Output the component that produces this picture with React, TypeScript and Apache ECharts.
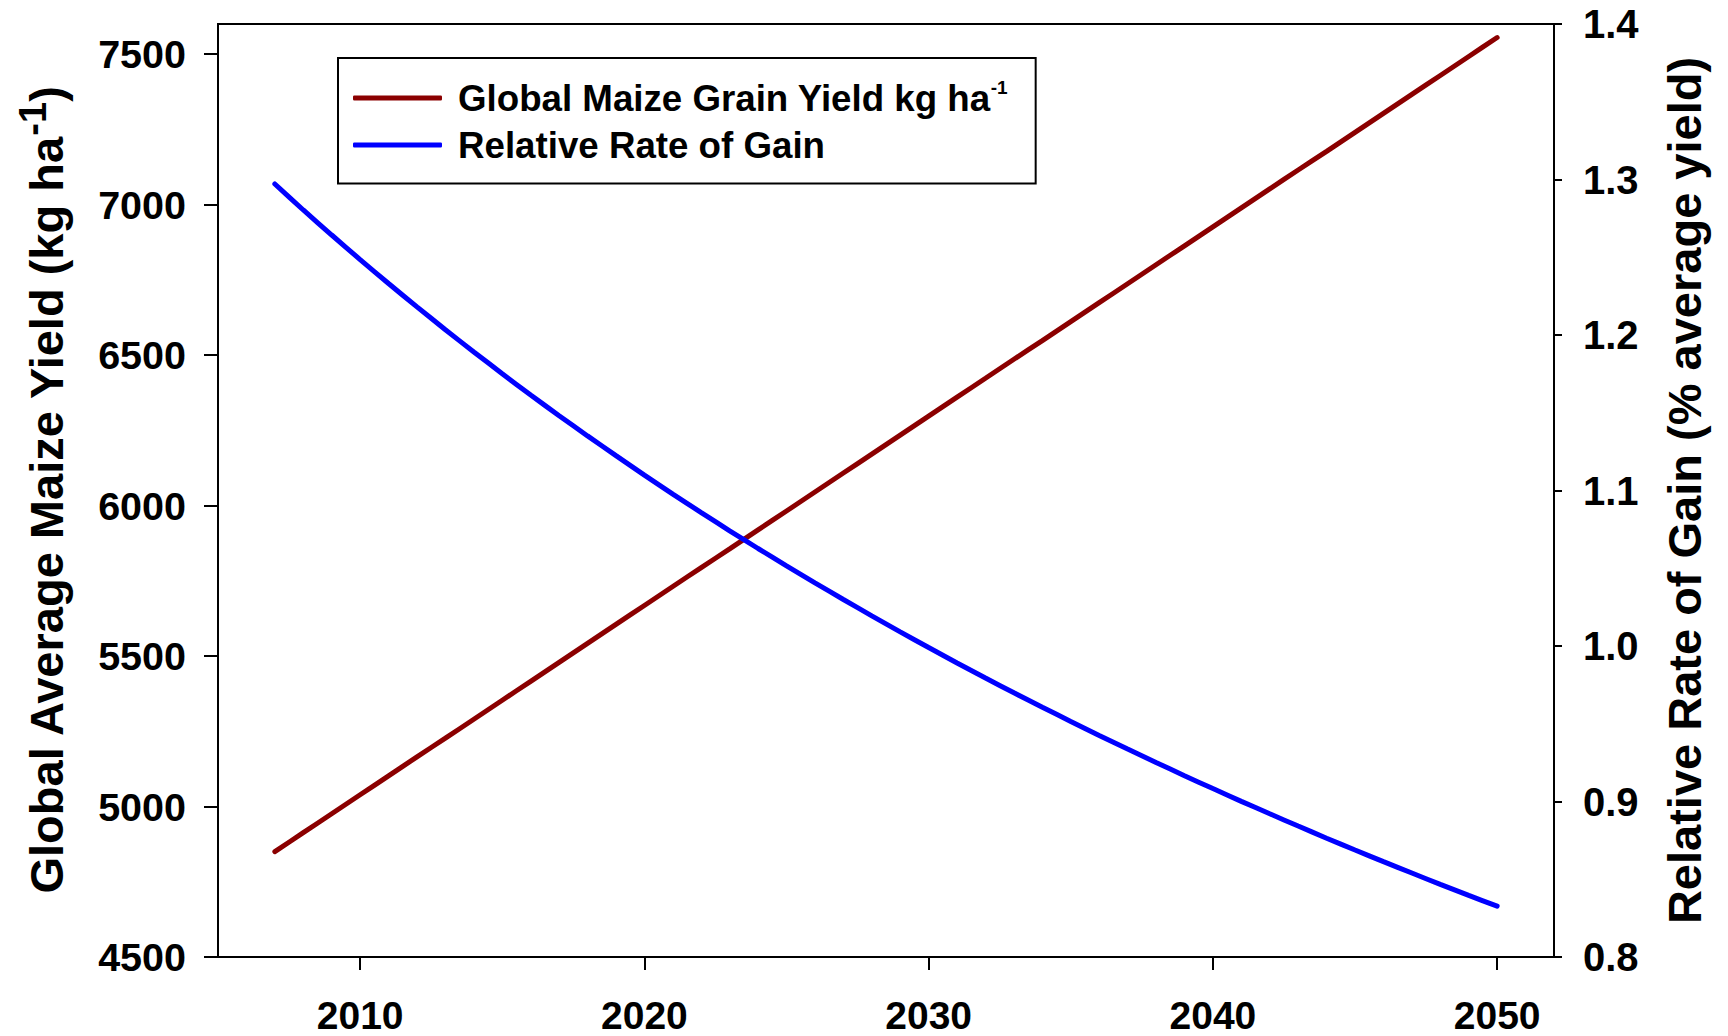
import React, { useEffect, useRef } from "react";
import * as echarts from "echarts";

const years = [
  2007, 2008, 2009, 2010, 2011, 2012, 2013, 2014, 2015, 2016, 2017, 2018, 2019, 2020, 2021,
  2022, 2023, 2024, 2025, 2026, 2027, 2028, 2029, 2030, 2031, 2032, 2033, 2034, 2035, 2036,
  2037, 2038, 2039, 2040, 2041, 2042, 2043, 2044, 2045, 2046, 2047, 2048, 2049, 2050,
];

const yieldValues = [
  4850, 4913, 4976, 5039, 5102, 5165, 5227, 5290, 5353, 5416, 5479, 5542, 5605, 5668, 5731,
  5794, 5856, 5919, 5982, 6045, 6108, 6171, 6234, 6297, 6360, 6423, 6486, 6548, 6611, 6674,
  6737, 6800, 6863, 6926, 6989, 7052, 7115, 7177, 7240, 7303, 7366, 7429, 7492, 7555,
];

const rateValues = [
  1.2971, 1.2804, 1.2643, 1.2485, 1.2331, 1.2181, 1.2034, 1.1891, 1.1751, 1.1614, 1.1481,
  1.1351, 1.1224, 1.1099, 1.0977, 1.0858, 1.0741, 1.0627, 1.0515, 1.0406, 1.0299, 1.0194,
  1.0091, 0.999, 0.9891, 0.9794, 0.9699, 0.9606, 0.9515, 0.9425, 0.9337, 0.9251, 0.9166,
  0.9083, 0.9001, 0.8921, 0.8842, 0.8764, 0.8688, 0.8613, 0.854, 0.8467, 0.8396, 0.8327,
];

const xTicks = [2010, 2020, 2030, 2040, 2050];
const leftTicks = [4500, 5000, 5500, 6000, 6500, 7000, 7500];
const rightTicks = [0.8, 0.9, 1.0, 1.1, 1.2, 1.3, 1.4];

const yieldName = "Global Maize Grain Yield kg ha-1";
const rateName = "Relative Rate of Gain";
const leftTitle = "Global Average Maize Yield (kg ha";
const rightTitle = "Relative Rate of Gain (% average yield)";

const FONT = "'Liberation Sans', Arial, Helvetica, sans-serif";

export default function App() {
  const ref = useRef<HTMLDivElement>(null);

  useEffect(() => {
    if (!ref.current) return;
    const chart = echarts.init(ref.current, null, { renderer: "svg" });

    const axisLine = { show: true, lineStyle: { color: "#000", width: 2 } };

    chart.setOption({
      animation: false,
      backgroundColor: "#fff",
      grid: {
        left: 218,
        right: 174,
        top: 24,
        bottom: 79,
        show: true,
        borderColor: "#000",
        borderWidth: 2,
        backgroundColor: "transparent",
      },
      legend: {
        left: 338,
        top: 58,
        orient: "vertical",
        padding: [20, 28, 20, 15],
        borderColor: "#000",
        borderWidth: 2,
        itemWidth: 89,
        itemHeight: 5,
        itemGap: 10,
        data: [
          { name: yieldName, icon: "roundRect" },
          { name: rateName, icon: "roundRect" },
        ],
        formatter: (name: string) =>
          name === yieldName
            ? "{m|Global Maize Grain Yield kg ha}{s|-1}"
            : "{m|" + name + "}",
        textStyle: {
          padding: [0, 0, 0, 11],
          rich: {
            m: {
              fontFamily: FONT,
              fontWeight: "bold",
              fontSize: 36.7,
              lineHeight: 40,
              color: "#000",
            },
            s: {
              fontFamily: FONT,
              fontWeight: "bold",
              fontSize: 19,
              color: "#000",
              verticalAlign: "top",
            },
          },
        },
      },
      xAxis: {
        type: "value",
        min: 2005,
        max: 2052,
        axisLine: { ...axisLine, onZero: false },
        splitLine: { show: false },
        axisTick: {
          show: true,
          inside: false,
          length: 13,
          customValues: xTicks,
          lineStyle: { color: "#000", width: 2 },
        },
        axisLabel: {
          customValues: xTicks,
          margin: 43,
          lineHeight: 30,
          formatter: (v: number) => String(v),
          fontFamily: FONT,
          fontWeight: "bold",
          fontSize: 39,
          color: "#000",
        },
      },
      yAxis: [
        {
          type: "value",
          position: "left",
          min: 4500,
          max: 7600,
          axisLine: { ...axisLine, onZero: false },
          splitLine: { show: false },
          axisTick: {
            show: true,
            inside: false,
            length: 14,
            customValues: leftTicks,
            lineStyle: { color: "#000", width: 2 },
          },
          axisLabel: {
            customValues: leftTicks,
            margin: 32,
            formatter: (v: number) => String(v),
            fontFamily: FONT,
            fontWeight: "bold",
            fontSize: 39.5,
            color: "#000",
          },
          name: "{m|" + leftTitle + "}{s|-1}{m|)}",
          nameLocation: "middle",
          nameRotate: 90,
          nameGap: 148,
          nameTextStyle: {
            rich: {
              m: {
                fontFamily: FONT,
                fontWeight: "bold",
                fontSize: 47,
                lineHeight: 47,
                color: "#000",
                verticalAlign: "bottom",
              },
              s: {
                fontFamily: FONT,
                fontWeight: "bold",
                fontSize: 38,
                color: "#000",
                verticalAlign: "top",
                padding: [0, 0, 18, 0],
              },
            },
          },
        },
        {
          type: "value",
          position: "right",
          min: 0.8,
          max: 1.4,
          axisLine: { ...axisLine, onZero: false },
          splitLine: { show: false },
          axisTick: {
            show: true,
            inside: false,
            length: 8,
            customValues: rightTicks,
            lineStyle: { color: "#000", width: 2 },
          },
          axisLabel: {
            customValues: rightTicks,
            margin: 29,
            formatter: (v: number) => v.toFixed(1),
            fontFamily: FONT,
            fontWeight: "bold",
            fontSize: 40,
            color: "#000",
          },
          name: rightTitle,
          nameLocation: "middle",
          nameRotate: 90,
          nameGap: 107,
          nameTextStyle: {
            fontFamily: FONT,
            fontWeight: "bold",
            fontSize: 47,
            color: "#000",
          },
        },
      ],
      series: [
        {
          name: yieldName,
          type: "line",
          yAxisIndex: 0,
          showSymbol: false,
          symbol: "none",
          smooth: 0.2,
          data: years.map((y, i) => [y, yieldValues[i]]),
          lineStyle: { color: "#8B0000", width: 5, cap: "round" },
          itemStyle: { color: "#8B0000" },
        },
        {
          name: rateName,
          type: "line",
          yAxisIndex: 1,
          showSymbol: false,
          symbol: "none",
          smooth: 0.2,
          data: years.map((y, i) => [y, rateValues[i]]),
          lineStyle: { color: "#0000FF", width: 5, cap: "round" },
          itemStyle: { color: "#0000FF" },
        },
      ],
    });

    return () => chart.dispose();
  }, []);

  return (
    <div
      ref={ref}
      style={{ position: "fixed", left: 0, top: 0, width: 1728, height: 1036 }}
    />
  );
}
